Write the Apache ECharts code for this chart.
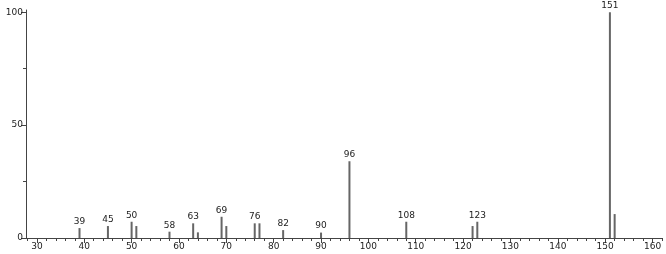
<!DOCTYPE html>
<html><head><meta charset="utf-8">
<script src="https://cdn.jsdelivr.net/npm/echarts@6/dist/echarts.min.js"></script>
<style>html,body{margin:0;padding:0;background:#fff}#c{width:666px;height:254px}</style>
</head><body><div id="c"></div>
<script>
var mz = [39,45,50,51,58,63,64,69,70,76,77,82,90,96,108,122,123,151,152];
var intensity = [4.4,5.3,7.2,5.3,2.8,6.5,2.5,9.4,5.3,6.5,6.5,3.5,2.4,34,7.2,5.3,7.2,100,10.6];
var labeledPeaks = [39,45,50,58,63,69,76,82,90,96,108,123,151];
var xMajorTicks = [30,40,50,60,70,80,90,100,110,120,130,140,150,160];
var yMajorTicks = [0,50,100];
var yMinorTicks = [25,75];
var xMinorStep = 2;
var xMinorTicks = [];
for (var v = 28; v <= 162; v += xMinorStep) { if (v % 10 !== 0) xMinorTicks.push(v); }

var font = 'DejaVu Sans';
var data = mz.map(function(m, i){
  return {value:[m, intensity[i]], label:{show: labeledPeaks.indexOf(m) >= 0}};
});
var chart = echarts.init(document.getElementById('c'), null, {renderer:'canvas'});
var xBase = {type:'value', min:27.7, max:162, position:'bottom', splitLine:{show:false}};
var yBase = {type:'value', min:0, max:101, position:'left', splitLine:{show:false}};
chart.setOption({
  animation:false,
  grid:{left:26, right:4, top:10, bottom:16},
  xAxis:[
    Object.assign({}, xBase, {
      axisLine:{show:true, lineStyle:{color:'#444', width:1}},
      axisTick:{show:true, inside:false, length:5, customValues:xMajorTicks, lineStyle:{color:'#444'}},
      axisLabel:{show:true, customValues:xMajorTicks, margin:4, fontSize:9, fontFamily:font, color:'#222'}
    }),
    Object.assign({}, xBase, {
      axisLine:{show:false},
      axisTick:{show:true, length:3, customValues:xMinorTicks, lineStyle:{color:'#444'}},
      axisLabel:{show:false}
    })
  ],
  yAxis:[
    Object.assign({}, yBase, {
      axisLine:{show:true, lineStyle:{color:'#444', width:1}},
      axisTick:{show:true, length:5, customValues:yMajorTicks, lineStyle:{color:'#444'}},
      axisLabel:{show:true, customValues:yMajorTicks, margin:3, fontSize:9, fontFamily:font, color:'#222'}
    }),
    Object.assign({}, yBase, {
      axisLine:{show:false},
      axisTick:{show:true, length:3, customValues:yMinorTicks, lineStyle:{color:'#444'}},
      axisLabel:{show:false}
    })
  ],
  series:[{
    type:'bar', xAxisIndex:0, yAxisIndex:0,
    data:data, barWidth:2,
    itemStyle:{color:'#666'},
    label:{show:false, position:'top', distance:2, fontSize:9, fontFamily:font, color:'#222',
      formatter:function(p){return p.value[0];}}
  }]
});
</script></body></html>
